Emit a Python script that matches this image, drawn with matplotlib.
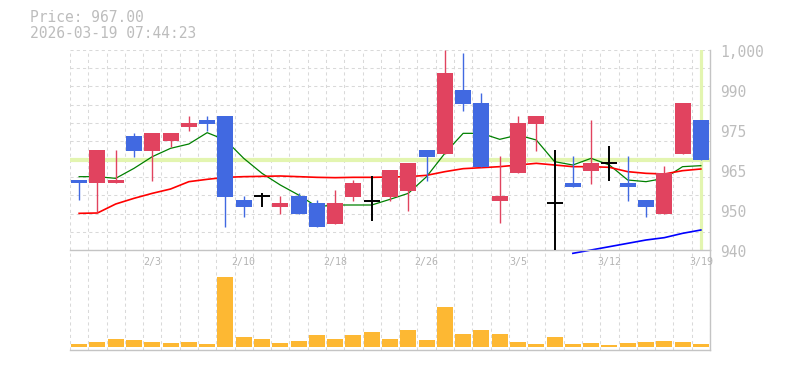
import numpy as np
import matplotlib.pyplot as plt
from matplotlib.transforms import offset_copy

plt.rcParams['font.family'] = ['DejaVu Sans Mono']

# 日付（営業日）
dates = ['1/28', '1/29', '1/30', '2/2', '2/3', '2/4', '2/5', '2/6', '2/9', '2/10',
         '2/12', '2/13', '2/16', '2/17', '2/18', '2/19', '2/20', '2/24', '2/25', '2/26',
         '2/27', '3/2', '3/3', '3/4', '3/5', '3/6', '3/9', '3/10', '3/11', '3/12',
         '3/13', '3/16', '3/17', '3/18', '3/19']

# 四本値
opens = [961, 960, 960, 974.2, 969.7, 972.8, 977, 979, 980.2, 955,
         956.2, 953, 956.2, 954, 947.8, 956, 954.8, 956, 957.8, 970,
         968.8, 988, 984.2, 954.8, 963, 977.8, 954, 960, 963.8, 966,
         960, 955, 950.9, 968.8, 979]
highs = [961, 970, 970, 975.2, 975.1, 975.1, 980.2, 980.2, 980.2, 956.2,
         957.2, 956.2, 957, 955, 958, 961, 962.2, 964, 966.1, 970,
         1000, 999.2, 987.2, 968.2, 980.2, 980.2, 970, 968.2, 979, 971.2,
         968.2, 955, 965.2, 984.2, 979]
lows = [955, 951.5, 960, 968, 960.8, 971, 975.8, 975.8, 947, 950,
        953, 950.8, 950.8, 947, 947.8, 954.7, 948.8, 954.7, 951.8, 960.8,
        968.8, 981.8, 965, 948, 963, 969.8, 939, 959, 959.8, 960.8,
        954.8, 950, 950.9, 968.8, 967]
closes = [960, 970, 961, 969.7, 975.1, 975.1, 978.1, 977.9, 956, 953,
          956.2, 954.2, 950.8, 947, 954, 960, 954.8, 964, 966.1, 968,
          993.2, 983.8, 965, 956.3, 978.2, 980.2, 954, 959, 966.1, 966,
          959, 953, 963, 984.2, 967]

# 出来高
volumes = [1100, 1700, 2600, 2300, 1700, 1400, 1700, 1100, 21200, 3200,
           2600, 1400, 2000, 3800, 2600, 3800, 4700, 2600, 5300, 2300,
           12000, 4100, 5300, 4100, 1700, 1100, 3200, 1100, 1400, 800,
           1400, 1700, 2000, 1700, 1100]

# 移動平均（5日・25日・75日）
ma5 = [962, 962, 961.5, 964.5, 968, 970.5, 971.8, 975.2, 973, 967.5,
       963, 959.5, 956.5, 953, 953.5, 953.5, 953.5, 955.2, 957, 962,
       969, 975, 975, 973.2, 974.5, 973, 966.5, 965.5, 967.5, 965.5,
       961, 960.5, 961.5, 965, 965.3]
ma25 = [951, 951.1, 953.8, 955.5, 957, 958.3, 960.5, 961.2, 961.8, 962,
        962.1, 962.2, 962, 961.8, 961.7, 961.8, 961.8, 961.9, 962, 962.4,
        963.5, 964.4, 964.7, 965, 965.5, 966, 965.5, 965, 965, 964.8,
        963.5, 963, 962.8, 963.8, 964.3]
ma75 = [np.nan] * 27 + [939, 940, 941, 942, 943, 943.7, 945, 946]

price = 967.00
stamp = '2026-03-19 07:44:23'
ytick_vals = [940, 952, 964, 976, 988, 1000]
ytick_labels = ['940', '950', '965', '975', '990', '1,000']

RED = '#e1435f'
BLUE = '#4169e1'
GRID = '#d9d9d9'
FRAME = '#c4c4c4'
HL = '#e3f5b0'

W, H = 785, 370
fig = plt.figure(figsize=(W / 100, H / 100), dpi=100)
axv = fig.add_axes([70 / W, 1 - 350 / H, 640 / W, 100 / H])
ax = fig.add_axes([70 / W, 1 - 250 / H, 640 / W, 200 / H], sharex=axv)
ax.set_facecolor('none')

n = len(closes)
x = np.arange(n)

# 現在値ライン
ax.axhline(price, color=HL, lw=3, zorder=1)
ax.plot([n - 1, n - 1], [940.5, 1000], color=HL, lw=2.3, zorder=1)

# 移動平均
ax.plot(x, ma5, color='#008000', lw=0.9, zorder=2)
ax.plot(x, ma25, color='#ff0000', lw=1.2, zorder=2)
ax.plot(x, ma75, color='#0000ff', lw=1.2, zorder=2, clip_on=False)

# ローソク足
bw = 0.87
for i in range(n):
    o, h, l, c = opens[i], highs[i], lows[i], closes[i]
    if c > o:
        col = RED
    elif c < o:
        col = BLUE
    else:
        col = 'black'
    ax.vlines(i, l, h, color=col, lw=1.0 if col != 'black' else 1.4, zorder=3)
    if c == o:
        ax.hlines(c, i - bw / 2, i + bw / 2, color=col, lw=1.4, zorder=3)
    else:
        ax.bar(i, abs(c - o), bottom=min(o, c), width=bw, color=col, zorder=3)

ax.set_xlim(-0.5, n - 0.5)
ax.set_ylim(940, 1000)

# グリッド
for a in (ax, axv):
    a.set_xticks(np.arange(-0.5, n), minor=True)
    a.set_xticks([])
    a.grid(which='minor', axis='x', color=GRID, lw=0.75, ls=(0, (3, 3)))
    a.tick_params(which='both', length=0, labelbottom=False, labelleft=False)
    a.set_axisbelow(True)
    for s in ('top', 'left'):
        a.spines[s].set_visible(False)
    for s in ('right', 'bottom'):
        a.spines[s].set_color(FRAME)
        a.spines[s].set_linewidth(1.0)
ax.set_yticks(np.linspace(940, 1000, 12), minor=True)
ax.set_yticks([])
ax.grid(which='minor', axis='y', color=GRID, lw=0.75, ls=(0, (3, 3)))

# 右側の価格ラベル
tr = offset_copy(ax.get_yaxis_transform(), fig=fig, x=10, y=-3, units='dots')
for v, lab in zip(ytick_vals, ytick_labels):
    ax.text(1, v, lab, transform=tr, ha='left', va='center',
            fontsize=10.5, color='#bdbdbd')

# 出来高
axv.bar(x, volumes, width=bw, color='#fdb833', zorder=2)
vmax = max(volumes)
axv.set_ylim(-vmax * 0.038, vmax * 1.377)
axv.set_yticks([])

# 日付ラベル
for i in range(4, n, 5):
    axv.text(i, 0.88, dates[i], transform=axv.get_xaxis_transform(),
             ha='center', va='center', fontsize=7.2, color='#b4b4b4')

fig.text(30 / W, 1 - 17.5 / H, f'Price: {price:.2f}', ha='left', va='center',
         fontsize=10.5, color='#bdbdbd')
fig.text(30 / W, 1 - 33 / H, stamp, ha='left', va='center',
         fontsize=10.5, color='#bdbdbd')

plt.savefig('out.png', dpi=100, facecolor='white')
